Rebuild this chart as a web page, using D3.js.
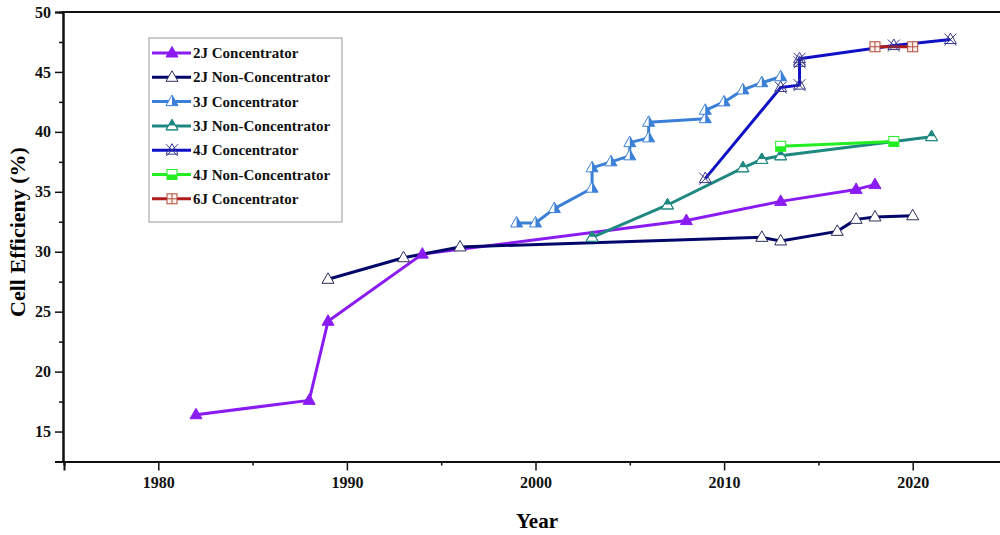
<!DOCTYPE html>
<html>
<head>
<meta charset="utf-8">
<script src="https://cdnjs.cloudflare.com/ajax/libs/d3/7.8.5/d3.min.js"></script>
<style>
  html, body { margin: 0; padding: 0; background: #fff; }
  svg { display: block; }
  text { font-family: "Liberation Serif", "Times New Roman", serif; font-weight: bold; }
</style>
</head>
<body>
<div id="chart"></div>
<script>
// ---------- data ----------
const years2JC = [1982, 1988, 1989, 1994, 2008, 2013, 2017, 2018];
const eff2JC   = [16.4, 17.6, 24.2, 29.8, 32.6, 34.2, 35.2, 35.6];

const years2JNC = [1989, 1993, 1996, 2012, 2013, 2016, 2017, 2018, 2020];
const eff2JNC   = [27.7, 29.5, 30.4, 31.2, 30.9, 31.7, 32.7, 32.9, 33.0];

const years3JC = [1999, 2000, 2001, 2003, 2003, 2004, 2005, 2005, 2006, 2006, 2009, 2009, 2010, 2011, 2012, 2013];
const eff3JC   = [32.4, 32.4, 33.6, 35.3, 37.0, 37.5, 38.0, 39.1, 39.5, 40.8, 41.1, 41.8, 42.5, 43.5, 44.1, 44.6];

const years3JNC = [2003, 2007, 2011, 2012, 2013, 2021];
const eff3JNC   = [31.2, 33.9, 37.0, 37.7, 38.0, 39.6];

const years4JC = [2009, 2013, 2014, 2014, 2014, 2019, 2022];
const eff4JC   = [36.1, 43.7, 43.9, 45.8, 46.1, 47.2, 47.7];

const years4JNC = [2013, 2019];
const eff4JNC   = [38.8, 39.2];

const years6JC = [2018, 2020];
const eff6JC   = [47.1, 47.1];

const seriesNames = ["2J Concentrator", "2J Non-Concentrator", "3J Concentrator",
  "3J Non-Concentrator", "4J Concentrator", "4J Non-Concentrator", "6J Concentrator"];

const yTicks = [15, 20, 25, 30, 35, 40, 45, 50];
const xTicks = [1980, 1990, 2000, 2010, 2020];

// ---------- look ----------
const width = 1000, height = 535;
const series = [
  { name: seriesNames[0], x: years2JC,  y: eff2JC,  color: "#8a1cf2", marker: "triFull",  mstroke: "#8a1cf2" },
  { name: seriesNames[1], x: years2JNC, y: eff2JNC, color: "#03076b", marker: "triOpen",  mstroke: "#2b2f5a" },
  { name: seriesNames[2], x: years3JC,  y: eff3JC,  color: "#3a80d6", marker: "triRight", mstroke: "#3a80d6" },
  { name: seriesNames[3], x: years3JNC, y: eff3JNC, color: "#1f8880", marker: "triTop",   mstroke: "#1f8880" },
  { name: seriesNames[4], x: years4JC,  y: eff4JC,  color: "#1010c8", marker: "triX",     mstroke: "#3a3a8a" },
  { name: seriesNames[5], x: years4JNC, y: eff4JNC, color: "#22ee22", marker: "sqBottom", mstroke: "#22ee22" },
  { name: seriesNames[6], x: years6JC,  y: eff6JC,  color: "#b01c1c", marker: "sqPlus",   mstroke: "#b04a3a" }
];

const svg = d3.select("#chart").append("svg")
  .attr("width", width)
  .attr("height", height);

const x = d3.scaleLinear().domain([1975, 2025]).range([64, 1007]);
const y = d3.scaleLinear().domain([12.5, 50]).range([461.5, 12]);

// ---------- axes ----------
const xAxis = d3.axisBottom(x).tickValues(xTicks).tickFormat(d3.format("d")).tickSize(9).tickPadding(6);
const xMinor = d3.axisBottom(x).tickValues(d3.range(1975, 2026, 5).filter(v => v % 10 !== 0)).tickSize(4).tickFormat("");
const yAxis = d3.axisLeft(y).tickValues(yTicks).tickSize(8).tickPadding(4);
const yMinor = d3.axisLeft(y).tickValues(d3.range(12.5, 50, 2.5).filter(v => v % 5 !== 0)).tickSize(4).tickFormat("");

function styleAxis(g) {
  g.select(".domain").attr("stroke", "#111").attr("stroke-width", 2);
  g.selectAll(".tick line").attr("stroke", "#111").attr("stroke-width", 1.5);
  g.selectAll(".tick text").attr("fill", "#111").style("font-size", "16px")
    .style("font-family", "'Liberation Serif', 'Times New Roman', serif").style("font-weight", "bold");
}

svg.append("g").attr("transform", "translate(0,461.5)").call(xMinor).call(styleAxis);
svg.append("g").attr("transform", "translate(0,461.5)").call(xAxis).call(styleAxis);
svg.append("g").attr("transform", "translate(63,0)").call(yMinor).call(styleAxis);
svg.append("g").attr("transform", "translate(63,0)").call(yAxis).call(styleAxis);

// top frame
svg.append("line")
  .attr("x1", 63).attr("x2", 1007).attr("y1", y(50)).attr("y2", y(50))
  .attr("stroke", "#111").attr("stroke-width", 2);

// axis titles
svg.append("text")
  .attr("x", 537).attr("y", 528)
  .attr("text-anchor", "middle")
  .style("font-size", "21px")
  .text("Year");

svg.append("text")
  .attr("transform", "translate(25,232) rotate(-90)")
  .attr("text-anchor", "middle")
  .style("font-size", "22px")
  .text("Cell Efficieny (%)");

// ---------- markers ----------
function drawMarker(g, type, color, stroke) {
  const tri = "M0,-6.5L6,4L-6,4Z";
  if (type === "triFull") {
    g.append("path").attr("d", tri).attr("fill", color).attr("stroke", stroke).attr("stroke-width", 1);
  } else if (type === "triOpen") {
    g.append("path").attr("d", tri).attr("fill", "#fff").attr("stroke", stroke).attr("stroke-width", 1);
  } else if (type === "triRight") {
    g.append("path").attr("d", tri).attr("fill", "#fff").attr("stroke", stroke).attr("stroke-width", 1);
    g.append("path").attr("d", "M0,-6.5L6,4L0,4Z").attr("fill", color);
  } else if (type === "triTop") {
    g.append("path").attr("d", tri).attr("fill", "#fff").attr("stroke", stroke).attr("stroke-width", 1);
    g.append("path").attr("d", "M0,-6.5L3.4,-0.5L-3.4,-0.5Z").attr("fill", color);
    g.append("path").attr("d", tri).attr("fill", "none").attr("stroke", stroke).attr("stroke-width", 1);
  } else if (type === "triX") {
    g.append("path").attr("d", tri).attr("fill", "none").attr("stroke", stroke).attr("stroke-width", 1);
    g.append("path").attr("d", "M-6,-6L6,6M6,-6L-6,6").attr("fill", "none").attr("stroke", stroke).attr("stroke-width", 1);
  } else if (type === "sqBottom") {
    g.append("rect").attr("x", -5).attr("y", -5).attr("width", 10).attr("height", 10)
      .attr("fill", "#fff").attr("stroke", stroke).attr("stroke-width", 1);
    g.append("rect").attr("x", -5).attr("y", 0).attr("width", 10).attr("height", 5).attr("fill", color);
  } else if (type === "sqPlus") {
    g.append("rect").attr("x", -5).attr("y", -5).attr("width", 10).attr("height", 10)
      .attr("fill", "#fff3f0").attr("stroke", stroke).attr("stroke-width", 1);
    g.append("path").attr("d", "M0,-5V5M-5,0H5").attr("stroke", stroke).attr("stroke-width", 1);
  }
}

// ---------- lines, then symbols ----------
const line = d3.line().x(d => x(d[0])).y(d => y(d[1]));
const gLines = svg.append("g");
const gMarks = svg.append("g");

series.forEach(s => {
  const pts = s.x.map((v, i) => [v, s.y[i]]);
  gLines.append("path")
    .datum(pts)
    .attr("d", line)
    .attr("fill", "none")
    .attr("stroke", s.color)
    .attr("stroke-width", 3)
    .attr("stroke-linejoin", "round");
  pts.forEach(p => {
    const m = gMarks.append("g").attr("transform", `translate(${x(p[0])},${y(p[1])})`);
    drawMarker(m, s.marker, s.color, s.mstroke);
  });
});

// ---------- legend ----------
const legend = svg.append("g").attr("transform", "translate(149,38)");
legend.append("rect")
  .attr("x", 0).attr("y", 0).attr("width", 193).attr("height", 184)
  .attr("fill", "#fff").attr("stroke", "#999").attr("stroke-width", 1);

series.forEach((s, i) => {
  const row = legend.append("g").attr("transform", `translate(0,${15 + i * 24.3})`);
  row.append("line").attr("x1", 3).attr("x2", 42).attr("y1", 0).attr("y2", 0)
    .attr("stroke", s.color).attr("stroke-width", 3);
  drawMarker(row.append("g").attr("transform", "translate(23,0)"), s.marker, s.color, s.mstroke);
  row.append("text")
    .attr("x", 44).attr("y", 5)
    .style("font-size", "15px")
    .attr("fill", "#111")
    .text(s.name);
});
</script>
</body>
</html>
